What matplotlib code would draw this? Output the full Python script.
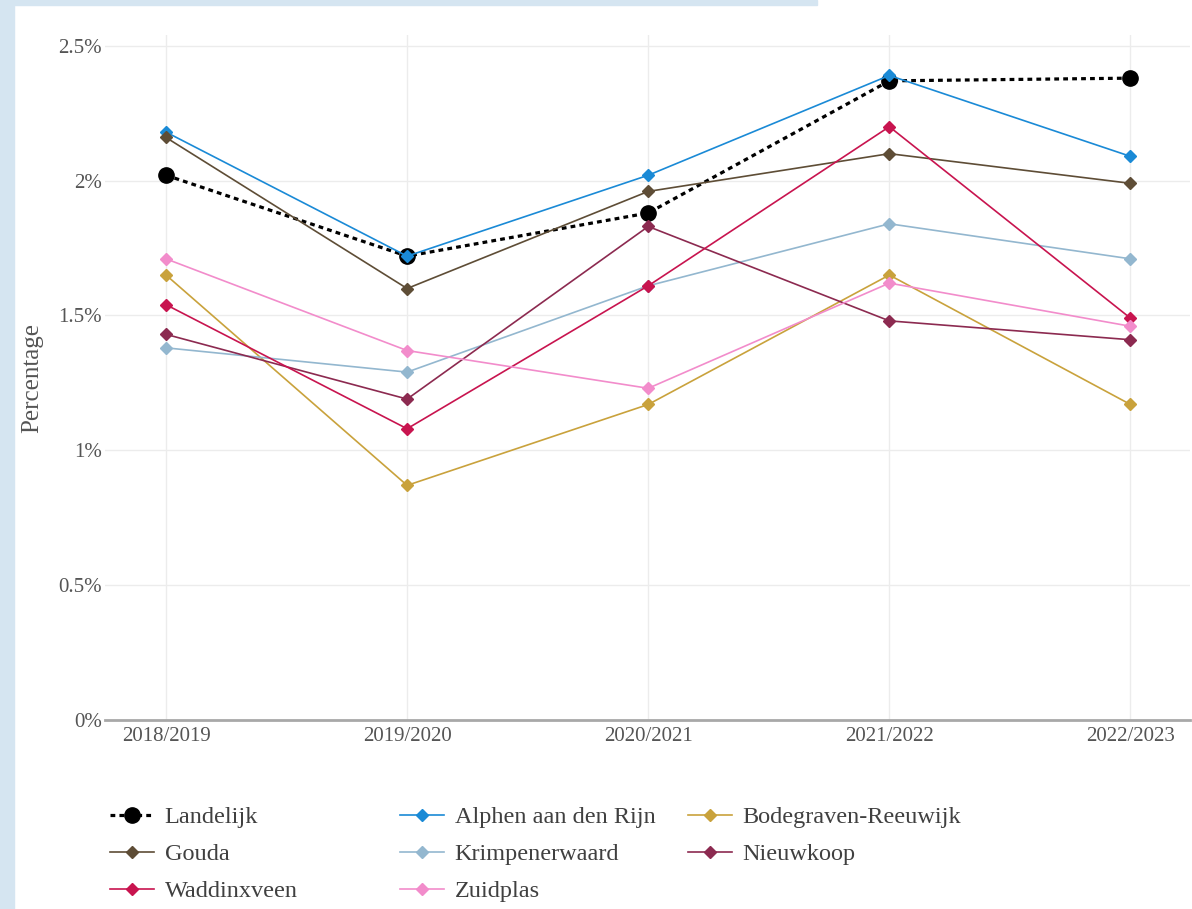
import matplotlib.pyplot as plt
from matplotlib.patches import Rectangle

# ---------- Data ---------- #
years = ["2018/2019", "2019/2020", "2020/2021", "2021/2022", "2022/2023"]

landelijk = [2.02, 1.72, 1.88, 2.37, 2.38]
alphen = [2.18, 1.72, 2.02, 2.39, 2.09]
bodegraven = [1.65, 0.87, 1.17, 1.65, 1.17]
gouda = [2.16, 1.60, 1.96, 2.10, 1.99]
krimpenerwaard = [1.38, 1.29, 1.61, 1.84, 1.71]
nieuwkoop = [1.43, 1.19, 1.83, 1.48, 1.41]
waddinxveen = [1.54, 1.08, 1.61, 2.20, 1.49]
zuidplas = [1.71, 1.37, 1.23, 1.62, 1.46]

series = [
    ("Alphen aan den Rijn", alphen, "#1a8ad6"),
    ("Bodegraven-Reeuwijk", bodegraven, "#c9a23c"),
    ("Gouda", gouda, "#5e4d36"),
    ("Krimpenerwaard", krimpenerwaard, "#93b7cf"),
    ("Nieuwkoop", nieuwkoop, "#8c2a50"),
    ("Waddinxveen", waddinxveen, "#c8144f"),
    ("Zuidplas", zuidplas, "#f28ccb"),
]

# ---------- Plot ---------- #
plt.rcParams['font.family'] = 'Liberation Serif'

fig = plt.figure(figsize=(11.92, 9.09), dpi=100)
# light blue page frame on the left and top
fig.patches.append(Rectangle((0, 0), 14 / 1192, 1, transform=fig.transFigure,
                             color="#d5e5f1", zorder=0))
fig.patches.append(Rectangle((0, 1 - 5 / 909), 817 / 1192, 5 / 909,
                             transform=fig.transFigure, color="#d5e5f1", zorder=0))

ax = fig.add_axes([105 / 1192, 189 / 909, 1085 / 1192, 685 / 909])
xx = list(range(len(years)))

handles = {}
h, = ax.plot(xx, landelijk, color="black", linestyle=(0, (1.5, 1.3)), linewidth=2.3,
             marker="o", markersize=11, label="Landelijk", zorder=2)
handles["Landelijk"] = h
for name, vals, col in series:
    h, = ax.plot(xx, vals, color=col, linewidth=1.2, marker="D", markersize=6,
                 label=name, zorder=3)
    handles[name] = h

ax.set_xlim(-0.253, 4.247)
ax.set_ylim(0, 2.54)
ax.set_yticks([0, 0.5, 1, 1.5, 2, 2.5])
ax.set_yticklabels(["0%", "0.5%", "1%", "1.5%", "2%", "2.5%"])
ax.set_xticks(xx)
ax.set_xticklabels(years)
ax.tick_params(axis="both", length=0, labelsize=15, labelcolor="#555555")
ax.tick_params(axis="x", pad=5)
ax.tick_params(axis="y", pad=2)
ax.grid(True, color="#ececec", linewidth=1)
ax.set_axisbelow(True)
for s in ["top", "right", "left"]:
    ax.spines[s].set_visible(False)
ax.spines["bottom"].set_color("#a8a8a8")
ax.spines["bottom"].set_linewidth(2)
ax.spines["bottom"].set_zorder(1)

fig.text(32 / 1192, 1 - 378 / 909, "Percentage", rotation=90, ha="center",
         va="center", fontsize=18, color="#555555")

# Legend in three columns (row-major order like the original)
columns = [["Landelijk", "Gouda", "Waddinxveen"],
           ["Alphen aan den Rijn", "Krimpenerwaard", "Zuidplas"],
           ["Bodegraven-Reeuwijk", "Nieuwkoop"]]
col_x = [110, 400, 688]
for names, x0 in zip(columns, col_x):
    leg = fig.legend([handles[n] for n in names], names, loc="upper left",
                     bbox_to_anchor=(x0 / 1192, 1 - 806 / 909), frameon=False,
                     fontsize=17.5, handlelength=1.8, handletextpad=0.45,
                     labelspacing=0.62, borderaxespad=0, borderpad=0)
    for t in leg.get_texts():
        t.set_color("#404040")

fig.savefig("out.png", dpi=100)
